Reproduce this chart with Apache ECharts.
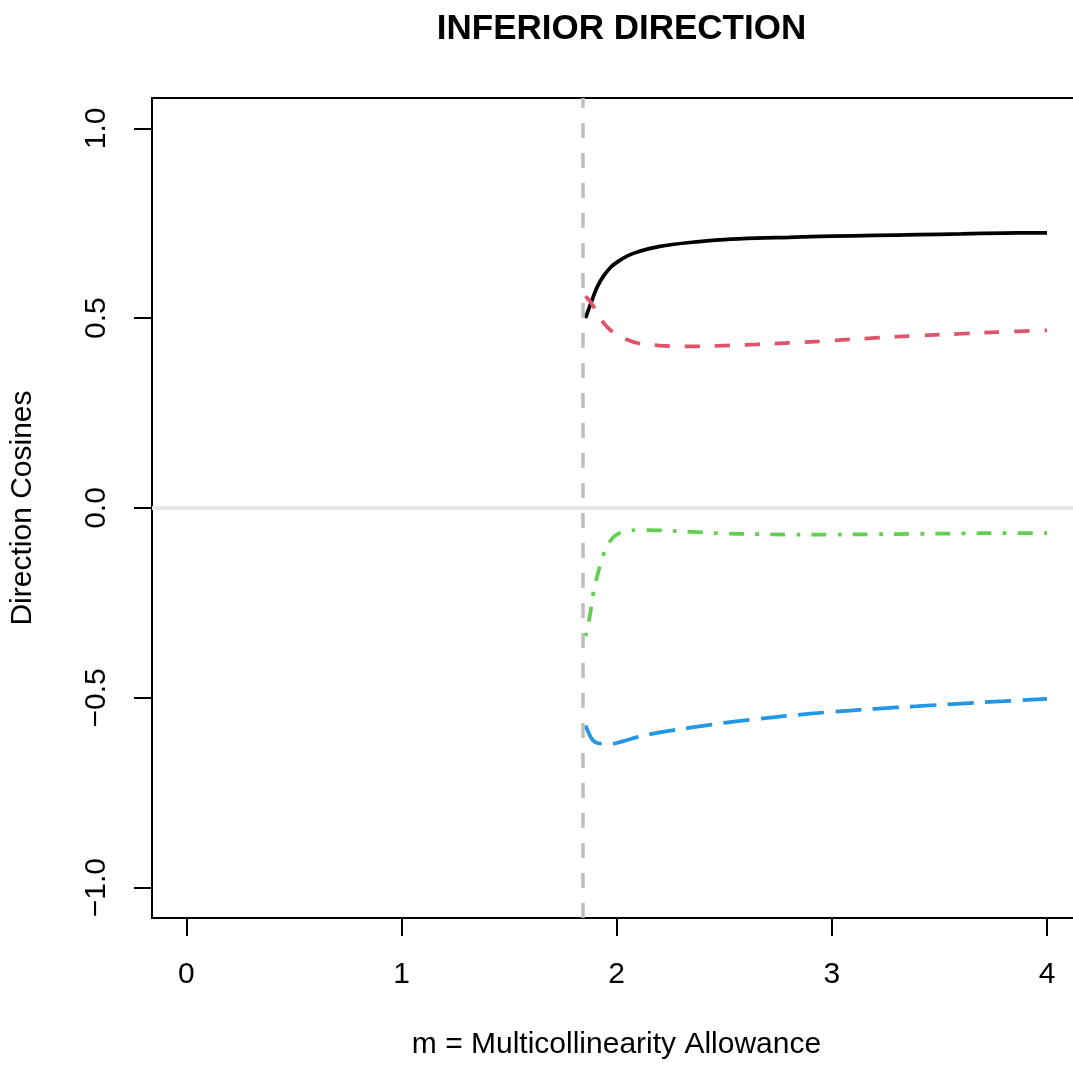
<!DOCTYPE html>
<html>
<head>
<meta charset="utf-8">
<script src="https://cdn.jsdelivr.net/npm/echarts@6/dist/echarts.min.js"></script>
<style>
  html, body { margin: 0; padding: 0; background: #fff; }
  #chart { width: 1073px; height: 1065px; }
</style>
</head>
<body>
<div id="chart"></div>
<script>
// multicollinearity allowance m (x values shared by every curve)
const mValues = [1.855, 1.875, 1.89, 1.91, 1.94, 1.97, 2.0, 2.05, 2.1, 2.2, 2.35, 2.5, 2.65, 2.8, 3.0, 3.2, 3.4, 3.6, 3.8, 4.0]

// direction cosines
const cos1 = [0.50, 0.532, 0.555, 0.583, 0.612, 0.633, 0.647, 0.664, 0.675, 0.689, 0.700, 0.707, 0.711, 0.713, 0.716, 0.718, 0.720, 0.722, 0.724, 0.725]
const cos2 = [0.558, 0.545, 0.533, 0.512, 0.487, 0.469, 0.458, 0.443, 0.434, 0.428, 0.4255, 0.428, 0.431, 0.435, 0.441, 0.448, 0.454, 0.459, 0.464, 0.468]
const cos3 = [-0.338, -0.285, -0.228, -0.178, -0.12, -0.087, -0.070, -0.061, -0.058, -0.059, -0.063, -0.067, -0.069, -0.070, -0.070, -0.069, -0.068, -0.067, -0.066, -0.066]
const cos4 = [-0.573, -0.599, -0.612, -0.619, -0.621, -0.621, -0.619, -0.611, -0.603, -0.591, -0.578, -0.566, -0.556, -0.547, -0.537, -0.529, -0.522, -0.515, -0.509, -0.503]

const xTicks = [0, 1, 2, 3, 4]
const yTicks = [-1, -0.5, 0, 0.5, 1]
const mStart = 1.845   // vertical reference line

const FONT = "'Liberation Sans', Arial, Helvetica, sans-serif"
const SERIES = [
  { name: 'c1', values: cos1, color: '#000000', dash: 'solid' },
  { name: 'c2', values: cos2, color: '#DF536B', dash: [15, 15] },
  { name: 'c3', values: cos3, color: '#61D04F', dash: [3.75, 11.25, 15, 11.25] },
  { name: 'c4', values: cos4, color: '#2297E6', dash: [26.25, 11.25] }
]

function pairUp(vals) {
  return mValues.map((m, i) => [m, vals[i]])
}

const chart = echarts.init(document.getElementById('chart'), null, { renderer: 'canvas' })

const X_MIN = -0.16, X_MAX = 4.1208   // plot region is cut off at the right edge

const option = {
  animation: false,
  backgroundColor: '#ffffff',
  title: {
    text: 'INFERIOR DIRECTION',
    left: 616.5,
    top: 7,
    textAlign: 'center',
    textStyle: { fontFamily: FONT, fontSize: 35, fontWeight: 'bold', color: '#000' }
  },
  grid: {
    left: 152,
    right: 0,
    top: 98,
    bottom: 147
  },
  xAxis: [
    {
      type: 'value',
      min: X_MIN,
      max: X_MAX,
      name: 'm = Multicollinearity Allowance',
      nameLocation: 'middle',
      nameGap: 112,
      nameTextStyle: { fontFamily: FONT, fontSize: 30, color: '#000', padding: [0, 0, 0, 8] },
      axisLine: { show: true, onZero: false, lineStyle: { color: '#000', width: 2 } },
      splitLine: { show: false },
      axisTick: {
        show: true,
        length: 18,
        customValues: xTicks,
        lineStyle: { color: '#000', width: 2 }
      },
      axisLabel: {
        customValues: xTicks,
        margin: 42,
        fontFamily: FONT,
        fontSize: 30,
        color: '#000',
        formatter: v => String(v)
      }
    },
    {
      // top side of the box
      type: 'value',
      position: 'top',
      min: X_MIN,
      max: X_MAX,
      axisLine: { show: true, onZero: false, lineStyle: { color: '#000', width: 2 } },
      axisTick: { show: false },
      axisLabel: { show: false },
      splitLine: { show: false }
    }
  ],
  yAxis: {
    type: 'value',
    min: -1.08,
    max: 1.08,
    name: 'Direction Cosines',
    nameLocation: 'middle',
    nameGap: 114,
    nameTextStyle: { fontFamily: FONT, fontSize: 30, color: '#000' },
    axisLine: { show: true, onZero: false, lineStyle: { color: '#000', width: 2 } },
    splitLine: { show: false },
    axisTick: {
      show: true,
      length: 18,
      customValues: yTicks,
      lineStyle: { color: '#000', width: 2 }
    },
    axisLabel: {
      customValues: yTicks,
      rotate: 90,
      margin: 40,
      fontFamily: FONT,
      fontSize: 30,
      color: '#000',
      formatter: v => v.toFixed(1).replace('-', '\u2212')
    }
  },
  series: [
    {
      // reference lines
      type: 'line',
      data: [],
      z: 1,
      silent: true,
      markLine: {
        silent: true,
        symbol: 'none',
        label: { show: false },
        data: [
          { yAxis: 0, lineStyle: { color: '#e5e5e5', width: 3.75, type: 'solid' } },
          { xAxis: mStart, lineStyle: { color: '#bebebe', width: 3.5, type: [15, 15] } }
        ]
      }
    }
  ].concat(SERIES.map(s => ({
    name: s.name,
    type: 'line',
    data: pairUp(s.values),
    showSymbol: false,
    smooth: 0.4,
    z: 3,
    lineStyle: { color: s.color, width: 3.75, type: s.dash, cap: 'butt' }
  })))
}

chart.setOption(option)
window.addEventListener('resize', () => chart.resize())
</script>
</body>
</html>
